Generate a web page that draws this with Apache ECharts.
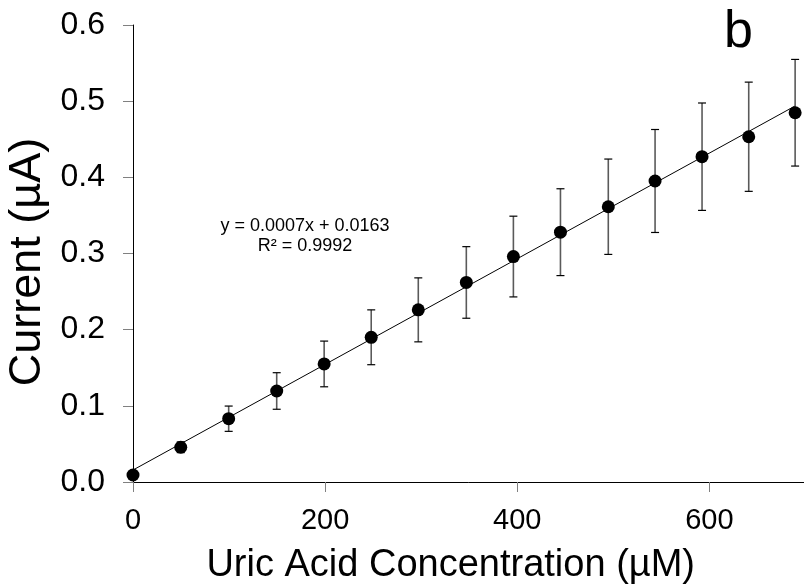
<!DOCTYPE html>
<html>
<head>
<meta charset="utf-8">
<title>Uric acid calibration</title>
<script src="https://cdn.jsdelivr.net/npm/echarts@6/dist/echarts.min.js"></script>
<style>
  html, body { margin: 0; padding: 0; background: #fff; }
  #chart { width: 804px; height: 588px; }
</style>
</head>
<body>
<div id="chart"></div>
<script>
// Uric acid concentration (µM) for each addition
const concentration = [0, 49.7, 99.6, 149.6, 199, 248, 297, 347, 396, 445, 494.8, 543.5, 592.4, 641, 689.3];
// Mean peak current (µA)
const current = [0.0092, 0.0456, 0.0831, 0.1195, 0.155, 0.190, 0.226, 0.262, 0.296, 0.328, 0.3614, 0.3952, 0.4271, 0.4533, 0.4848];
// Standard deviation of the current (µA)
const currentSD = [0.003, 0.007, 0.0166, 0.024, 0.030, 0.036, 0.042, 0.047, 0.053, 0.057, 0.0626, 0.0676, 0.0705, 0.0717, 0.070];

const xTicks = [0, 200, 400, 600];
const yTicks = [0.0, 0.1, 0.2, 0.3, 0.4, 0.5, 0.6];

const fitLabel = ['y = 0.0007x + 0.0163', 'R² = 0.9992'];
const panelLetter = 'b';

// Least-squares line through the measured points
function linearFit(xs, ys) {
  const n = xs.length;
  let sx = 0, sy = 0, sxx = 0, sxy = 0;
  for (let i = 0; i < n; i++) {
    sx += xs[i]; sy += ys[i]; sxx += xs[i] * xs[i]; sxy += xs[i] * ys[i];
  }
  const slope = (n * sxy - sx * sy) / (n * sxx - sx * sx);
  const intercept = (sy - slope * sx) / n;
  return { slope, intercept };
}
const fit = linearFit(concentration, current);
const xFirst = concentration[0];
const xLast = concentration[concentration.length - 1];
const fitLine = [
  [xFirst, fit.intercept + fit.slope * xFirst],
  [xLast, fit.intercept + fit.slope * xLast]
];

const points = concentration.map((x, i) => [x, current[i]]);
const errorData = concentration.map((x, i) => [x, current[i] - currentSD[i], current[i] + currentSD[i]]);

const FONT = '"Liberation Sans", Arial, sans-serif';

const chart = echarts.init(document.getElementById('chart'), null, { renderer: 'canvas' });

chart.setOption({
  animation: false,
  backgroundColor: '#fff',
  grid: {
    left: 133, top: 25, bottom: 106, right: -1.4,
    containLabel: false,
    outerBoundsMode: 'none'
  },
  xAxis: {
    type: 'value',
    min: xTicks[0],
    max: 700,
    interval: xTicks[1] - xTicks[0],
    name: 'Uric Acid Concentration (µM)',
    nameLocation: 'middle',
    nameGap: 65,
    nameTextStyle: { fontFamily: FONT, fontSize: 38, color: '#000', padding: [0, 37, 0, 0] },
    axisLine: { show: true, onZero: false, lineStyle: { color: '#000', width: 1 } },
    axisTick: { show: true, inside: false, length: 10, lineStyle: { color: '#808080', width: 1 } },
    axisLabel: {
      showMaxLabel: false,
      margin: 24,
      fontFamily: FONT, fontSize: 29, color: '#000',
      formatter: v => xTicks.indexOf(v) >= 0 ? String(v) : ''
    },
    splitLine: { show: false }
  },
  yAxis: {
    type: 'value',
    min: yTicks[0],
    max: yTicks[yTicks.length - 1],
    interval: 0.1,
    name: 'Current (µA)',
    nameLocation: 'middle',
    nameGap: 78,
    nameRotate: 90,
    nameTextStyle: { fontFamily: FONT, fontSize: 45, color: '#000', padding: [0, 17, 0, 0] },
    axisLine: { show: true, onZero: false, lineStyle: { color: '#000', width: 1 } },
    axisTick: { show: true, inside: false, length: 10, lineStyle: { color: '#808080', width: 1 } },
    axisLabel: {
      margin: 28,
      fontFamily: FONT, fontSize: 32, color: '#000',
      formatter: v => v.toFixed(1)
    },
    splitLine: { show: false }
  },
  graphic: [
    {
      type: 'text',
      left: 724, top: 7,
      style: { text: panelLetter, font: '52px ' + FONT, fill: '#000' }
    },
    {
      type: 'text',
      x: 305, y: 216,
      style: {
        text: fitLabel.join('\n'),
        font: '18px ' + FONT,
        fill: '#000',
        align: 'center',
        lineHeight: 20
      }
    }
  ],
  series: [
    {
      name: 'Linear fit',
      type: 'line',
      data: fitLine,
      symbol: 'none',
      lineStyle: { color: '#000', width: 1 },
      z: 2,
      silent: true
    },
    {
      name: 'SD',
      type: 'custom',
      data: errorData,
      z: 3,
      renderItem: function (params, api) {
        const x = api.value(0);
        const lo = api.coord([x, api.value(1)]);
        const hi = api.coord([x, api.value(2)]);
        const cap = 4;
        return {
          type: 'group',
          children: [
            { type: 'line', shape: { x1: hi[0], y1: hi[1], x2: lo[0], y2: lo[1] },
              style: { stroke: '#5a5a5a', lineWidth: 1.6 } },
            { type: 'line', shape: { x1: hi[0] - cap, y1: hi[1], x2: hi[0] + cap, y2: hi[1] },
              style: { stroke: '#000', lineWidth: 1.2 } },
            { type: 'line', shape: { x1: lo[0] - cap, y1: lo[1], x2: lo[0] + cap, y2: lo[1] },
              style: { stroke: '#000', lineWidth: 1.2 } }
          ]
        };
      }
    },
    {
      name: 'Current',
      type: 'scatter',
      data: points,
      symbol: 'circle',
      symbolSize: 13,
      itemStyle: { color: '#000', opacity: 1 },
      z: 4
    }
  ]
});
</script>
</body>
</html>
